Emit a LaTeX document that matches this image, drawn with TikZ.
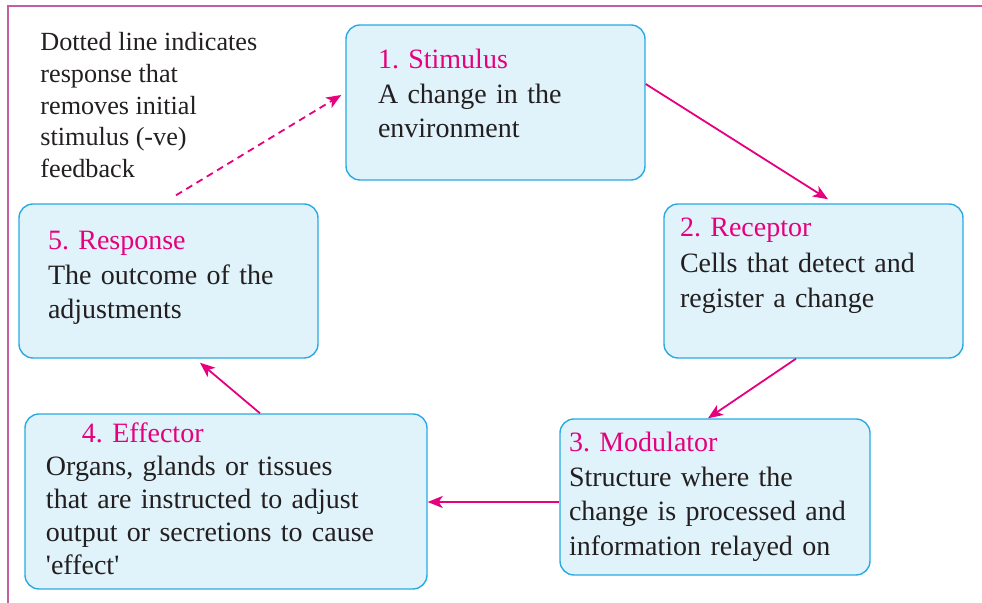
\documentclass[tikz,border=0pt]{standalone}
\usepackage{fontspec}
\setmainfont{Liberation Serif}
\usepackage{xcolor}
\usepackage{tikz}
\usetikzlibrary{arrows.meta, positioning}

\definecolor{headpink}{HTML}{E6007E}
\definecolor{boxline}{HTML}{29ABE2}
\definecolor{boxfill}{HTML}{E0F2FA}
\definecolor{framepink}{HTML}{C25FA0}
\definecolor{bodytext}{HTML}{231F20}

\newcommand{\boxtitle}[1]{\textcolor{headpink}{#1}}
\frenchspacing

\begin{document}
\begin{tikzpicture}[
  x=0.5pt, y=-0.5pt,
  block/.style={
    rectangle, draw=boxline, fill=boxfill, line width=0.7pt,
    rounded corners=7pt, align=left, text=bodytext,
    font=\fontsize{14pt}{17.25pt}\selectfont, inner ysep=0pt
  },
  note/.style={align=left, text=bodytext, inner sep=0pt,
    font=\fontsize{13.1pt}{15.9pt}\selectfont},
  line/.style={draw=headpink, line width=0.9pt,
    -{Stealth[length=7.5pt, width=6pt, inset=2pt]}},
  dashedline/.style={line, dashed, dash pattern=on 3.5pt off 2.5pt}
]
  \useasboundingbox (0,0) rectangle (982,603);

  % page frame
  \draw[framepink, line width=1pt] (8,603) -- (8,6) -- (982,6);

  % the five stages (text height = first baseline, text depth = rest of box)
  \node [block, minimum width=149.5pt, text height=22pt, text depth=55.5pt,
         inner xsep=16pt, text width=117.5pt] (stim) at (495.5,102.5)
    {\boxtitle{1. Stimulus}\\A change in the\\environment};
  \node [block, minimum width=149.5pt, text height=16.5pt, text depth=60.5pt,
         inner xsep=8pt, text width=133.5pt,
         font=\fontsize{14pt}{17.75pt}\selectfont] (rec) at (813.5,281)
    {\boxtitle{2. Receptor}\\Cells that detect and\\register a change};
  \node [block, minimum width=155pt, text height=16.5pt, text depth=61.5pt,
         inner xsep=4.5pt, text width=146pt] (mod) at (715,497)
    {\boxtitle{3. Modulator}\\Structure where the\\change is processed and\\information relayed on};
  \node [block, minimum width=201pt, text height=14.5pt, text depth=73pt,
         inner xsep=10.5pt, text width=180pt,
         font=\fontsize{14pt}{16.5pt}\selectfont] (eff) at (226,501.5)
    {\hspace*{18pt}\boxtitle{4. Effector}\\Organs, glands or tissues\\that are instructed to adjust\\output or secretions to cause\\\textquotesingle effect\textquotesingle};
  \node [block, minimum width=149.5pt, text height=23pt, text depth=54pt,
         inner xsep=14.5pt, text width=120.5pt] (resp) at (168.5,281)
    {\boxtitle{5. Response}\\The outcome of the\\adjustments};

  \node [note, anchor=north west] (remark) at (40,32)
    {Dotted line indicates\\response that\\removes initial\\stimulus (-ve)\\feedback};

  \path [line] ([yshift=9.25pt]stim.east) -- ([xshift=7.25pt,yshift=2pt]rec.north);
  \path [line] ([xshift=-8.75pt]rec.south) -- ([xshift=-3.5pt]mod.north);
  \path [line] ([yshift=-2.5pt]mod.west) -- ([yshift=-0.25pt]eff.east);
  \path [line] ([xshift=17pt]eff.north) -- ([xshift=15.75pt,yshift=-2pt]resp.south);
  \path [dashedline] ([xshift=3.75pt,yshift=4pt]resp.north) -- ([xshift=-2pt,yshift=3.75pt]stim.west);

\end{tikzpicture}
\end{document}
